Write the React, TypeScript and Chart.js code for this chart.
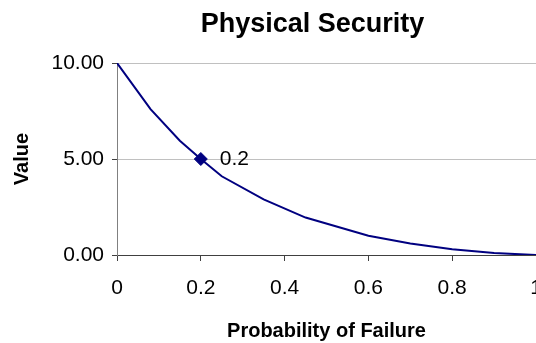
import React, { useEffect, useRef } from 'react';
import { Chart, registerables } from 'chart.js';

Chart.register(...registerables);

const chartTitle = 'Physical Security';
const xAxisTitle = 'Probability of Failure';
const yAxisTitle = 'Value';

// Probability of failure (x) and resulting value (y)
const probability = [0, 0.08, 0.15, 0.2, 0.25, 0.35, 0.45, 0.6, 0.7, 0.8, 0.9, 1.0];
const value = [10, 7.6, 5.95, 5.0, 4.1, 2.9, 1.95, 1.0, 0.6, 0.3, 0.1, 0];

// The one point that carries a marker and a data label
const labelledProbability = 0.2;

const xTickLabels = ['0', '0.2', '0.4', '0.6', '0.8', '1'];
const yTickLabels = ['0.00', '5.00', '10.00'];

const FONT = '"Liberation Sans", Arial, Helvetica, sans-serif';
const NAVY = '#000080';

const labelIndex = probability.indexOf(labelledProbability);

const overlayPlugin = {
  id: 'overlay',
  afterDraw(chart: any) {
    const ctx = chart.ctx;
    ctx.save();
    // chart title
    ctx.fillStyle = '#000000';
    ctx.font = `bold 27px ${FONT}`;
    ctx.textAlign = 'center';
    ctx.textBaseline = 'alphabetic';
    ctx.fillText(chartTitle, 312.5, 32);
    // data label for the marked point
    const meta = chart.getDatasetMeta(0);
    const el = meta.data[labelIndex];
    if (el) {
      ctx.font = `21px ${FONT}`;
      ctx.textAlign = 'left';
      ctx.textBaseline = 'middle';
      ctx.fillText(String(probability[labelIndex]), el.x + 19, el.y);
    }
    ctx.restore();
  },
};

export default function App() {
  const canvasRef = useRef<HTMLCanvasElement | null>(null);

  useEffect(() => {
    const canvas = canvasRef.current;
    if (!canvas) return;
    const chart = new Chart(canvas, {
      type: 'line',
      data: {
        datasets: [
          {
            data: probability.map((p, i) => ({ x: p, y: value[i] })),
            borderColor: NAVY,
            borderWidth: 2,
            tension: 0,
            fill: false,
            pointStyle: 'rectRot',
            pointRadius: probability.map((_, i) => (i === labelIndex ? 6.5 : 0)),
            pointHoverRadius: probability.map((_, i) => (i === labelIndex ? 6.5 : 0)),
            pointBackgroundColor: NAVY,
            pointBorderColor: NAVY,
            pointBorderWidth: 1,
          },
        ],
      },
      options: {
        responsive: false,
        animation: false,
        events: [],
        layout: {
          autoPadding: false,
          padding: { top: 63, left: 0, right: 0, bottom: 0 },
        },
        plugins: {
          legend: { display: false },
          title: { display: false },
          tooltip: { enabled: false },
        },
        scales: {
          x: {
            type: 'linear',
            min: 0,
            max: 1,
            afterFit: (s: any) => {
              s.height = 88;
              s.paddingLeft = 0;
              s.paddingRight = 0;
            },
            afterBuildTicks: (s: any) => {
              s.ticks = xTickLabels.map((t) => ({ value: parseFloat(t) }));
            },
            ticks: {
              callback: (_v: any, i: number) => xTickLabels[i],
              color: '#000000',
              font: { family: FONT, size: 21 },
              padding: 15,
              maxRotation: 0,
              autoSkip: false,
            },
            grid: {
              drawOnChartArea: false,
              drawTicks: true,
              tickLength: 6,
              tickColor: '#404040',
            },
            border: { display: true, color: '#404040', width: 1 },
            title: {
              display: true,
              text: xAxisTitle,
              color: '#000000',
              font: { family: FONT, size: 20, weight: 'bold' },
              padding: { top: 0, bottom: 0 },
            },
          },
          y: {
            type: 'linear',
            min: 0,
            max: 10,
            afterFit: (s: any) => {
              s.width = 117;
              s.paddingTop = 0;
              s.paddingBottom = 0;
            },
            afterBuildTicks: (s: any) => {
              s.ticks = yTickLabels.map((t) => ({ value: parseFloat(t) }));
            },
            ticks: {
              callback: (_v: any, i: number) => yTickLabels[i],
              color: '#000000',
              font: { family: FONT, size: 21 },
              padding: 8,
              autoSkip: false,
            },
            grid: {
              color: '#c0c0c0',
              lineWidth: 1,
              drawTicks: true,
              tickLength: 5,
              tickColor: '#404040',
            },
            border: { display: true, color: '#808080', width: 1 },
            title: {
              display: true,
              text: yAxisTitle,
              color: '#000000',
              font: { family: FONT, size: 20, weight: 'bold' },
              padding: { top: 10, bottom: 0 },
            },
          },
        },
      },
      plugins: [overlayPlugin],
    } as any);
    return () => chart.destroy();
  }, []);

  return (
    <div style={{ position: 'fixed', left: 0, top: 0, width: 536, height: 343, background: '#ffffff' }}>
      <canvas ref={canvasRef} width={536} height={343} style={{ display: 'block' }} />
    </div>
  );
}
